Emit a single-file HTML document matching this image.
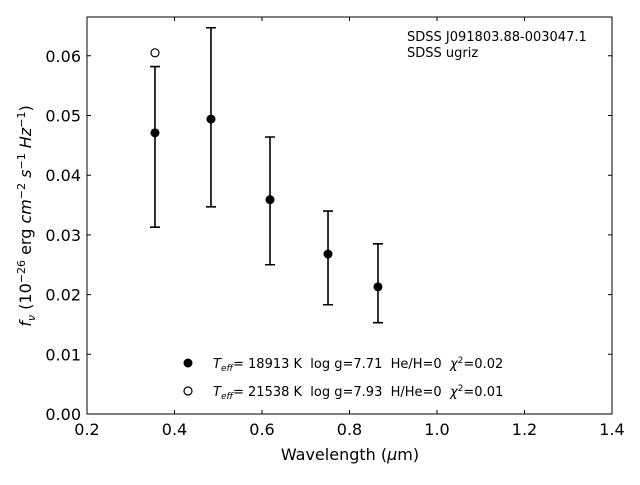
<!DOCTYPE html>
<html><head><meta charset="utf-8"><style>
body{margin:0;background:#fff;}
svg text{font-family:"DejaVu Sans","Liberation Sans",sans-serif;white-space:pre;}
</style></head><body>
<svg id="c" width="640" height="480" xmlns="http://www.w3.org/2000/svg"></svg>
<script>
const bands = ['u','g','r','i','z'];
const wavelengths = [0.3554, 0.4834, 0.6183, 0.7509, 0.8651];
const fluxes = [0.0471, 0.0494, 0.0359, 0.0268, 0.0213];
const errHigh = [0.0582, 0.0647, 0.0464, 0.0340, 0.0285];
const errLow = [0.0313, 0.0347, 0.0250, 0.0183, 0.0153];
const modelHeWavelengths = [0.3554];
const modelHeFluxes = [0.0605];
const xTicks = ['0.2','0.4','0.6','0.8','1.0','1.2','1.4'];
const yTicks = ['0.00','0.01','0.02','0.03','0.04','0.05','0.06'];

const NS='http://www.w3.org/2000/svg';
const svg=document.getElementById('c');
const L=87,R=612,T=17,B=414;
const X=v=>L+(v-0.2)/(1.2)*(R-L);
const Y=v=>B-v/0.0665*(B-T);
function mk(tag,attrs,parent){const e=document.createElementNS(NS,tag);for(const k in attrs)e.setAttribute(k,attrs[k]);(parent||svg).appendChild(e);return e;}

const axes=mk('rect',{x:L,y:T,width:R-L,height:B-T,fill:'none',stroke:'#000','stroke-width':1});



xTicks.forEach(t=>{const x=X(parseFloat(t));
 const tk=mk('path',{d:`M${x},${B}v-4M${x},${T}v4`,stroke:'#000'});
 
 
 const tx=mk('text',{x:x,y:B+21,'text-anchor':'middle','font-size':16});tx.textContent=t;
 
 
});
yTicks.forEach(t=>{const y=Y(parseFloat(t));
 const tk=mk('path',{d:`M${L},${y}h4M${R},${y}h-4`,stroke:'#000'});
 
 
 const tx=mk('text',{x:L-6,y:y+6,'text-anchor':'end','font-size':16});tx.textContent=t;
 
 
});

wavelengths.forEach((w,i)=>{const x=X(w);
 const g=mk('g',{});
 
 
 mk('path',{d:`M${x},${Y(errLow[i])}V${Y(errHigh[i])}M${x-5},${Y(errLow[i])}h10M${x-5},${Y(errHigh[i])}h10`,stroke:'#000','stroke-width':1.6},g);
 mk('circle',{cx:x,cy:Y(fluxes[i]),r:4.5,fill:'#000'},g);
});
modelHeWavelengths.forEach((w,i)=>{
 const c=mk('circle',{cx:X(w),cy:Y(modelHeFluxes[i]),r:4,fill:'#fff',stroke:'#000','stroke-width':1.2});
 
 
});
</script>
<svg width="640" height="480" style="position:absolute;left:0;top:0" xmlns="http://www.w3.org/2000/svg">
<text x="407" y="41" font-size="13">SDSS J091803.88-003047.1</text>
<text x="407" y="57" font-size="13">SDSS ugriz</text>
<circle cx="188" cy="363" r="4.5" fill="#000"/>
<text x="213" y="368" font-size="13"><tspan font-style="italic">T</tspan><tspan font-style="italic" font-size="9" dy="3">eff</tspan><tspan dy="-3">= 18913 K  log g=7.71  He/H=0  </tspan><tspan font-style="italic">χ</tspan><tspan font-size="9" dy="-5">2</tspan><tspan dy="5">=0.02</tspan></text>
<circle cx="188" cy="391" r="4" fill="#fff" stroke="#000" stroke-width="1.2"/>
<text x="213" y="396" font-size="13"><tspan font-style="italic">T</tspan><tspan font-style="italic" font-size="9" dy="3">eff</tspan><tspan dy="-3">= 21538 K  log g=7.93  H/He=0  </tspan><tspan font-style="italic">χ</tspan><tspan font-size="9" dy="-5">2</tspan><tspan dy="5">=0.01</tspan></text>
<text x="350" y="460" font-size="16" text-anchor="middle">Wavelength (<tspan font-style="italic">μ</tspan>m)</text>
<text transform="translate(31,216) rotate(-90)" font-size="16" text-anchor="middle"><tspan font-style="italic">f</tspan><tspan font-style="italic" font-size="11" dy="4">ν</tspan><tspan dy="-4"> (10</tspan><tspan font-size="11" dy="-6">−26</tspan><tspan dy="6"> erg </tspan><tspan font-style="italic">cm</tspan><tspan font-size="11" dy="-6">−2</tspan><tspan dy="6" font-style="italic"> s</tspan><tspan font-size="11" dy="-6">−1</tspan><tspan dy="6" font-style="italic"> Hz</tspan><tspan font-size="11" dy="-6">−1</tspan><tspan dy="6">)</tspan></text>
</svg>
</body></html>
